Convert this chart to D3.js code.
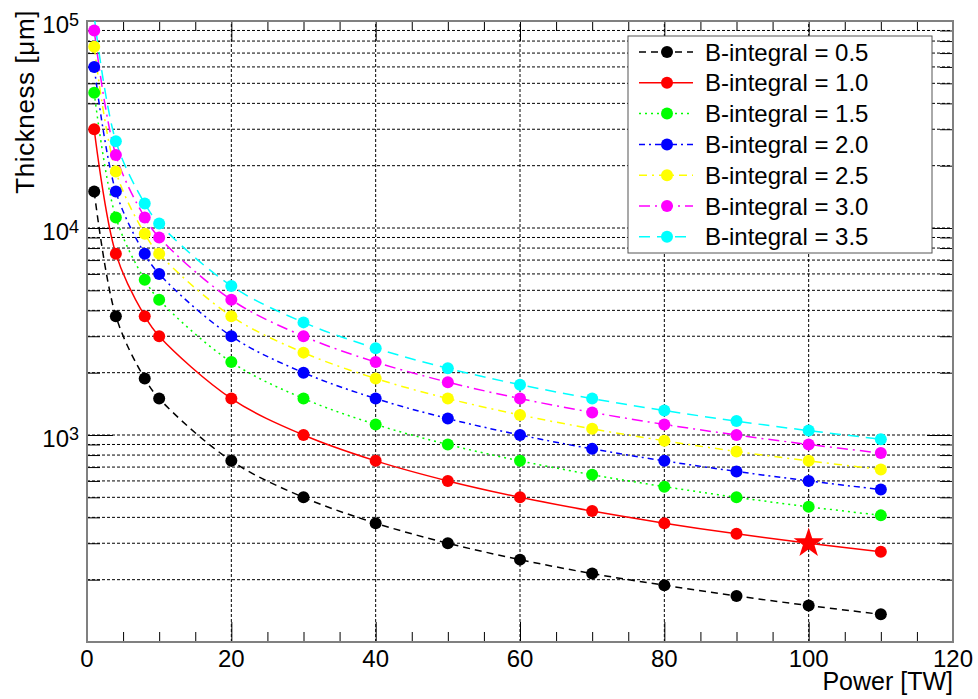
<!DOCTYPE html>
<html>
<head>
<meta charset="utf-8">
<script src="https://cdn.jsdelivr.net/npm/d3@7"></script>
<style>
  body { margin: 0; background: #fff; }
  text { font-family: "Liberation Sans", Arial, sans-serif; fill: #000; }
</style>
</head>
<body>
<svg id="chart" width="978" height="699"></svg>
<script>
// data
const power = [1, 4, 8, 10, 20, 30, 40, 50, 60, 70, 80, 90, 100, 110];
const bValues = ["0.5", "1.0", "1.5", "2.0", "2.5", "3.0", "3.5"];
const thick05 = [15000, 3750, 1875, 1500, 750, 500, 375, 300, 250, 214, 188, 167, 150, 136];
const thick10 = [30000, 7500, 3750, 3000, 1500, 1000, 750, 600, 500, 429, 375, 333, 300, 273];
const thick15 = [45000, 11250, 5625, 4500, 2250, 1500, 1125, 900, 750, 643, 563, 500, 450, 409];
const thick20 = [60000, 15000, 7500, 6000, 3000, 2000, 1500, 1200, 1000, 857, 750, 667, 600, 545];
const thick25 = [75000, 18750, 9375, 7500, 3750, 2500, 1875, 1500, 1250, 1071, 938, 833, 750, 682];
const thick30 = [90000, 22500, 11250, 9000, 4500, 3000, 2250, 1800, 1500, 1286, 1125, 1000, 900, 818];
const thick35 = [105000, 26250, 13125, 10500, 5250, 3500, 2625, 2100, 1750, 1500, 1313, 1167, 1050, 955];
const starPoint = [100, 300];
const xMajor = [0, 20, 40, 60, 80, 100, 120];
const yDecades = [1000, 10000, 100000];

const allThick = [thick05, thick10, thick15, thick20, thick25, thick30, thick35];

// styles
const colors = ["#000000", "#ff0000", "#00ff00", "#0000ff", "#ffff00", "#ff00ff", "#00ffff"];
const dashes = ["7,5", null, "2,4", "6,4,2,4", "8,5,2,5", "11,5,2,5", "11,7"];

const M = {left: 87, right: 25, top: 21, bottom: 57};
const W = 978, H = 699;
const svg = d3.select("#chart");

const x = d3.scaleLinear().domain([0, 120]).range([M.left, W - M.right]);
const y = d3.scaleLog().domain([100, 100000]).range([H - M.bottom, M.top]);

const yMinor = [];
for (let d = 100; d < 100000; d *= 10)
  for (let k = 2; k <= 9; k++) yMinor.push(d * k);
const xMinor = d3.range(0, 121, 5).filter(v => v % 20 !== 0);

// grid
const grid = svg.append("g").attr("stroke", "#000").attr("stroke-width", 1).attr("stroke-dasharray", "3,2");
grid.selectAll(".gx").data(xMajor.slice(1, -1)).join("line")
  .attr("x1", d => x(d)).attr("x2", d => x(d))
  .attr("y1", y(100)).attr("y2", y(100000));
grid.selectAll(".gy").data(yMinor.concat([1000, 10000]).filter(v => v > 100 && v < 100000)).join("line")
  .attr("x1", x(0)).attr("x2", x(120))
  .attr("y1", d => y(d)).attr("y2", d => y(d));

// axes (ticks inside the frame)
const axG = svg.append("g");
function styleAxis(g) {
  g.select(".domain").remove();
  g.selectAll(".tick line").attr("stroke", "#000");
  g.selectAll("text").remove();
}
axG.append("g").attr("transform", `translate(0,${y(100)})`)
  .call(d3.axisBottom(x).tickValues(xMinor).tickSize(-10)).call(styleAxis);
axG.append("g").attr("transform", `translate(0,${y(100)})`)
  .call(d3.axisBottom(x).tickValues(xMajor).tickSize(-20)).call(styleAxis);
axG.append("g").attr("transform", `translate(0,${y(100000)})`)
  .call(d3.axisTop(x).tickValues(xMinor).tickSize(-10)).call(styleAxis);
axG.append("g").attr("transform", `translate(0,${y(100000)})`)
  .call(d3.axisTop(x).tickValues(xMajor).tickSize(-20)).call(styleAxis);
axG.append("g").attr("transform", `translate(${x(0)},0)`)
  .call(d3.axisLeft(y).tickValues(yMinor).tickSize(-13)).call(styleAxis);
axG.append("g").attr("transform", `translate(${x(0)},0)`)
  .call(d3.axisLeft(y).tickValues(yDecades).tickSize(-26)).call(styleAxis);
axG.append("g").attr("transform", `translate(${x(120)},0)`)
  .call(d3.axisRight(y).tickValues(yMinor).tickSize(-13)).call(styleAxis);
axG.append("g").attr("transform", `translate(${x(120)},0)`)
  .call(d3.axisRight(y).tickValues(yDecades).tickSize(-26)).call(styleAxis);

// frame
svg.append("rect")
  .attr("x", x(0)).attr("y", y(100000))
  .attr("width", x(120) - x(0)).attr("height", y(100) - y(100000))
  .attr("fill", "none").attr("stroke", "#808080").attr("stroke-width", 2);

// tick labels
svg.append("g").selectAll("text").data(xMajor).join("text")
  .attr("x", d => x(d)).attr("y", y(100) + 25)
  .attr("text-anchor", "middle").attr("font-size", 24)
  .text(d => d);

const yl = svg.append("g").selectAll("text").data(yDecades).join("text")
  .attr("x", 79).attr("y", d => y(d) + 12)
  .attr("text-anchor", "end").attr("font-size", 24);
yl.append("tspan").text("10");
yl.append("tspan").attr("font-size", 18).attr("dy", -7).text(d => Math.round(Math.log10(d)));

// axis titles
svg.append("text")
  .attr("x", x(120)).attr("y", 690)
  .attr("text-anchor", "end").attr("font-size", 25)
  .text("Power [TW]");
svg.append("text")
  .attr("transform", "translate(34,10) rotate(-90)")
  .attr("text-anchor", "end").attr("font-size", 26)
  .attr("letter-spacing", 0.6)
  .text("Thickness [μm]");

// curves and markers
svg.append("clipPath").attr("id", "plotclip").append("rect")
  .attr("x", x(0)).attr("y", y(100000))
  .attr("width", x(120) - x(0)).attr("height", y(100) - y(100000));

const plot = svg.append("g").attr("clip-path", "url(#plotclip)");
const line = d3.line()
  .x((d, i) => x(power[i]))
  .y(d => y(d))
  .curve(d3.curveCatmullRom.alpha(0.5));

allThick.forEach((vals, s) => {
  plot.append("path")
    .attr("d", line(vals))
    .attr("fill", "none")
    .attr("stroke", colors[s])
    .attr("stroke-width", 1.5)
    .attr("stroke-dasharray", dashes[s]);
});
allThick.forEach((vals, s) => {
  plot.append("g").selectAll("circle")
    .data(vals.map((v, i) => [power[i], v]).filter(d => d[1] <= 100000))
    .join("circle")
    .attr("cx", d => x(d[0])).attr("cy", d => y(d[1]))
    .attr("r", 6).attr("fill", colors[s]);
});

plot.append("path")
  .attr("d", d3.symbol(d3.symbolStar, 280)())
  .attr("transform", `translate(${x(starPoint[0])},${y(starPoint[1])})`)
  .attr("fill", "#ff0000");

// legend
const lg = svg.append("g").attr("transform", "translate(628,36)");
lg.append("rect").attr("width", 304).attr("height", 217)
  .attr("fill", "#fff").attr("stroke", "#555").attr("stroke-width", 1);
bValues.forEach((b, i) => {
  const cy = 16 + i * 30.8;
  lg.append("line").attr("x1", 11).attr("x2", 65).attr("y1", cy).attr("y2", cy)
    .attr("stroke", colors[i]).attr("stroke-width", 1.5).attr("stroke-dasharray", dashes[i]);
  lg.append("circle").attr("cx", 39).attr("cy", cy).attr("r", 6).attr("fill", colors[i]);
  lg.append("text").attr("x", 77).attr("y", cy + 8.5).attr("font-size", 24)
    .text(`B-integral = ${b}`);
});
</script>
</body>
</html>
